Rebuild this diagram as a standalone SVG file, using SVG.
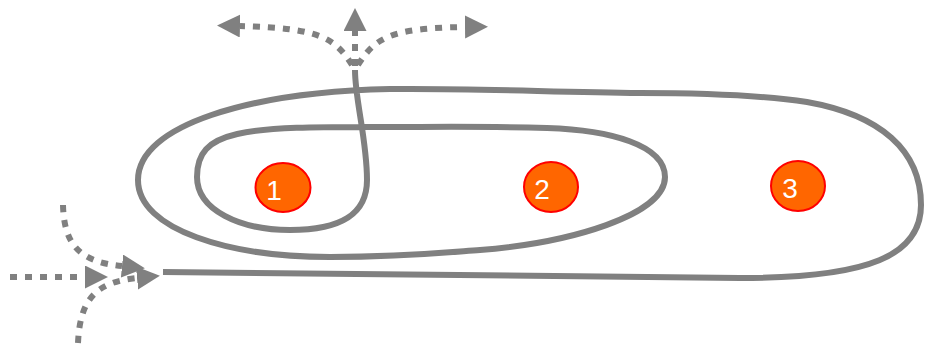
<svg xmlns="http://www.w3.org/2000/svg" width="928" height="347" viewBox="0 0 928 347">
<style>
.line{fill:none;stroke:#808080;stroke-width:6;stroke-linecap:butt;stroke-linejoin:round}
.dot{fill:none;stroke:#808080;stroke-width:6;stroke-dasharray:7 8;stroke-linecap:butt}
.node ellipse{fill:#ff6600;stroke:#ff0000;stroke-width:2}
.node text{font-family:"Liberation Sans",Arial,sans-serif;font-size:28px;fill:#ffffff;text-anchor:middle}
</style>
<defs>
<marker id="ah" markerUnits="userSpaceOnUse" markerWidth="24" markerHeight="24" refX="0" refY="11.5" orient="auto" viewBox="0 0 24 24">
<path d="M0,0 L23,11.5 L0,23 z" fill="#808080"/>
</marker>
</defs>
<g id="connectors">
<path class="line" d="M163,272 C400,274 600,278 740,278 C870,278 921,255 921,205 C921,150 880,115 807,102 C760,95 700,93 640,93 C550,92 470,88 390,89 C250,92 138,125 138,180 C138,230 230,257 330,257 C400,257 440,253 480,250 C570,243 665,215 665,177 C665,145 610,130 547,128 C480,126 430,127 390,127 C240,126 197,130 197,177 C197,210 240,230 290,230 C340,230 367,215 367,180 C367,140 355,100 355,70"/>
<path class="dot" marker-end="url(#ah)" d="M355,66 L355,31"/>
<path class="dot" marker-end="url(#ah)" d="M352,65 C335,38 320,28 240,26"/>
<path class="dot" marker-end="url(#ah)" d="M358,65 C375,38 390,28 465,27"/>
<path class="dot" marker-end="url(#ah)" d="M10,277 L85,277"/>
<path class="dot" marker-end="url(#ah)" d="M63,205 C64,245 80,262 122,266"/>
<path class="dot" marker-end="url(#ah)" d="M78,343 C80,300 95,282 137,278"/>
</g>
<g id="node1" class="node">
<ellipse cx="283" cy="187.5" rx="27.5" ry="24.5"/>
<text x="274" y="200">1</text>
</g>
<g id="node2" class="node">
<ellipse cx="551" cy="187" rx="27" ry="25"/>
<text x="542" y="199">2</text>
</g>
<g id="node3" class="node">
<ellipse cx="798" cy="186" rx="27" ry="25"/>
<text x="790" y="198">3</text>
</g>
</svg>
